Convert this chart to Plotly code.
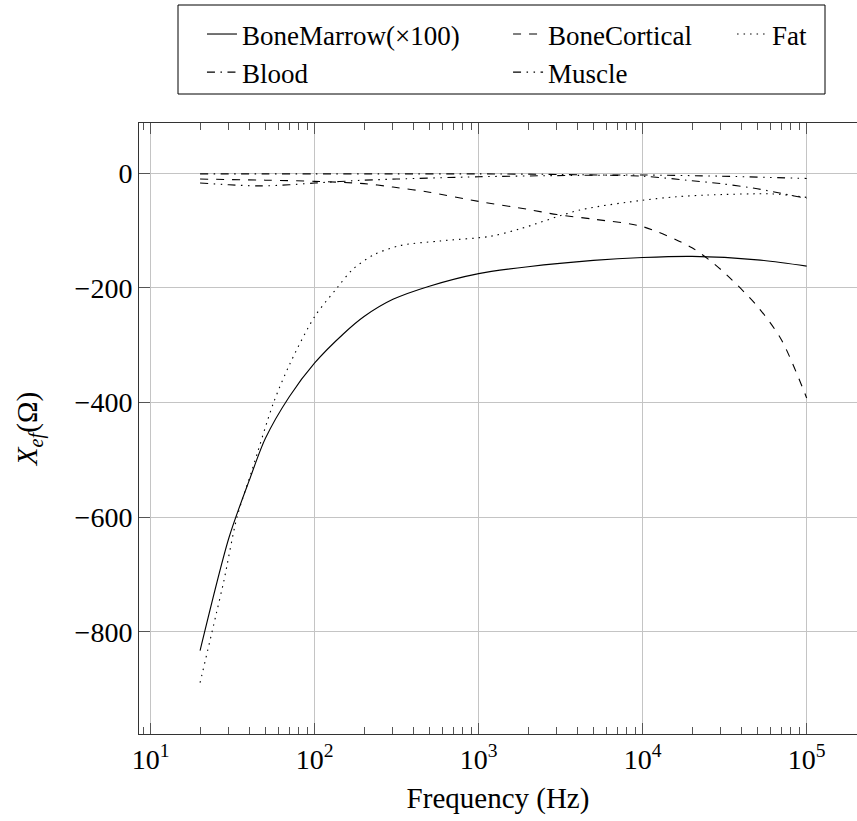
import plotly.graph_objects as go

# ---------------- data ----------------
f_marrow = [20, 30, 40, 50, 70, 100, 150, 200, 300, 500, 1000, 2000, 5000, 10000, 20000, 50000, 100000]
x_marrow = [-833, -636, -535, -463, -390, -331, -280, -250, -220, -197, -175, -163, -152, -147, -145, -151, -162]

f_cortical = [20, 50, 100, 200, 300, 500, 1000, 2000, 3000, 5000, 10000, 20000, 30000, 50000, 70000, 100000]
x_cortical = [-10, -12, -14, -18, -24, -33, -49, -63, -72, -80, -93, -130, -168, -232, -290, -392]

f_fat = [20, 25, 28, 33.6, 41.5, 56, 71, 100, 137, 170, 230, 333, 583, 1178, 1786, 4150, 10000, 16000, 24500, 62500, 100000]
x_fat = [-889, -771, -710, -600, -518, -401, -331, -250, -200, -168, -142, -126, -118, -110, -97, -64, -47, -41, -38, -36, -42]

f_blood = [20, 50, 100, 300, 1000, 3000, 10000, 20000, 30000, 50000, 70000, 100000]
x_blood = [-1, -1, -1, -1, -1, -2, -5, -13, -18, -27, -35, -44]

f_muscle = [20, 30, 46, 70, 100, 200, 316, 1000, 3000, 10000, 30000, 100000]
x_muscle = [-17, -20, -22, -20, -17, -12, -10, -6, -4, -3, -5, -9]

x_tickvals = [1e1, 1e2, 1e3, 1e4, 1e5]
x_ticktext = ["10<sup>1</sup>", "10<sup>2</sup>", "10<sup>3</sup>", "10<sup>4</sup>", "10<sup>5</sup>"]
y_tickvals = [-800, -600, -400, -200, 0]

FONT = "Liberation Serif, Times New Roman, Tinos, Noto Serif, DejaVu Serif, serif"

series = [
    ("BoneMarrow(×100)", f_marrow, x_marrow, "solid", "legend"),
    ("BoneCortical", f_cortical, x_cortical, "8px,8px", "legend2"),
    ("Fat", f_fat, x_fat, "1.5px,5px", "legend3"),
    ("Blood", f_blood, x_blood, "8px,5.5px,1.5px,5.5px", "legend"),
    ("Muscle", f_muscle, x_muscle, "8px,5.5px,1.5px,5.5px,1.5px,5.5px", "legend2"),
]

fig = go.Figure()
for name, fx, fy, dash, leg in series:
    fig.add_trace(go.Scatter(
        x=fx, y=fy, mode="lines", name=name, legend=leg,
        line=dict(color="black", width=1.1, dash=dash, shape="spline", smoothing=0.8),
    ))

minor_vals = [m * 10 ** k for k in range(0, 6) for m in range(2, 10)]

legend_common = dict(
    bgcolor="rgba(0,0,0,0)", borderwidth=0, orientation="v",
    font=dict(family=FONT, size=27, color="black"),
    yanchor="top", xanchor="left", tracegroupgap=0,
)

fig.update_layout(
    width=857, height=821,
    margin=dict(l=139, r=0, t=123, b=87, autoexpand=False),
    paper_bgcolor="white", plot_bgcolor="white",
    font=dict(family=FONT, size=28, color="black"),
    legend=dict(x=0.0877, y=1.185, **legend_common),
    legend2=dict(x=0.514, y=1.185, **legend_common),
    legend3=dict(x=0.826, y=1.185, **legend_common),
    xaxis=dict(
        type="log", range=[0.9287, 5.307], automargin=False,
        tickmode="array", tickvals=x_tickvals, ticktext=x_ticktext,
        ticks="inside", ticklen=11, tickwidth=1, tickcolor="#555",
        showline=True, linecolor="#333", linewidth=1, mirror="allticks",
        showgrid=True, gridcolor="#c4c4c4", gridwidth=1,
        minor=dict(tickmode="array", tickvals=minor_vals, ticks="inside", ticklen=7,
                   tickwidth=1, tickcolor="#555", showgrid=False),
        tickfont=dict(family=FONT, size=28),
        title=dict(text="Frequency (Hz)", font=dict(family=FONT, size=29), standoff=14),
        zeroline=False,
    ),
    yaxis=dict(
        range=[-978.5, 87.8], automargin=False,
        tickmode="array", tickvals=y_tickvals,
        ticks="inside", ticklen=11, tickwidth=1, tickcolor="#555",
        showline=True, linecolor="#333", linewidth=1, mirror=False,
        showgrid=True, gridcolor="#c4c4c4", gridwidth=1,
        tickfont=dict(family=FONT, size=28),
        title=dict(text="<i>X</i><sub><i>ef</i></sub>(Ω)", font=dict(family=FONT, size=29), standoff=28),
        zeroline=False,
    ),
    shapes=[dict(type="rect", xref="paper", yref="paper",
                 x0=(178 - 139) / 718, x1=(825 - 139) / 718,
                 y0=1 + (123 - 94) / 611, y1=1 + (123 - 5) / 611,
                 line=dict(color="black", width=1), fillcolor="rgba(0,0,0,0)")],
)

fig.write_html("out.html", config={"displayModeBar": False},
               post_script="document.body.style.margin='0';")
